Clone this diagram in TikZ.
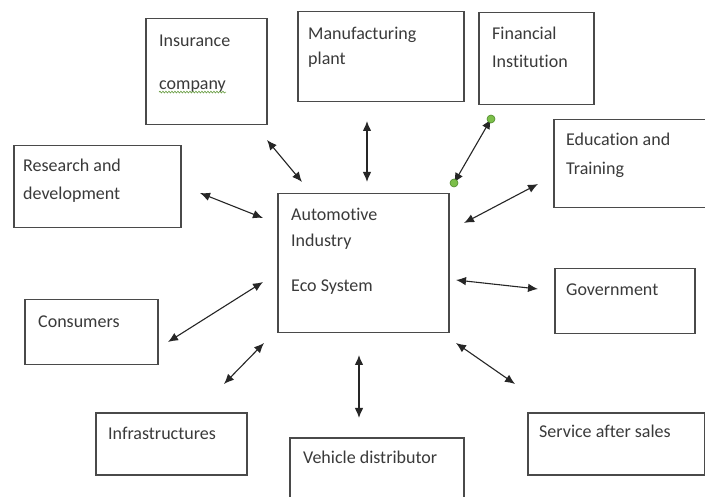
\documentclass[tikz,border=0pt]{standalone}
\usepackage{fontspec}
\setmainfont{Carlito}[Ligatures=NoCommon]
\usetikzlibrary{arrows.meta,decorations.pathmorphing}
\definecolor{boxline}{HTML}{4A4A4A}
\definecolor{txt}{HTML}{3A3A3A}
\definecolor{handle}{HTML}{7CBF4A}
\definecolor{handleline}{HTML}{4E8A2A}
\tikzset{
  box/.style={draw=boxline, line width=1.5pt, fill=white, inner sep=0pt, anchor=north west},
  lbl/.style={anchor=base west, inner sep=0pt, text=txt, font=\fontsize{18}{22}\selectfont},
  link/.style={draw=black!85, line width=1.1pt, {Latex[length=10pt,width=8.5pt]}-{Latex[length=10pt,width=8.5pt]}},
  handledot/.style={circle, fill=handle, draw=handleline, line width=0.6pt, minimum size=8pt, inner sep=0pt},
}
\begin{document}
\begin{tikzpicture}[x=1pt,y=-1pt]
\useasboundingbox (0,0) rectangle (705,497);
\fill[white] (0,0) rectangle (705,497);
\clip (0,0) rectangle (705,497);

% boxes (top-left corner, size)
\node[box, minimum width=121pt, minimum height=106pt] (ins) at (145,18) {};
\node[box, minimum width=166pt, minimum height=90pt]  (man) at (297,11) {};
\node[box, minimum width=115pt, minimum height=92pt]  (fin) at (478,12) {};
\node[box, minimum width=156pt, minimum height=88pt]  (edu) at (553,119) {};
\node[box, minimum width=167pt, minimum height=82pt]  (res) at (13,145) {};
\node[box, minimum width=171pt, minimum height=139pt] (eco) at (277,193) {};
\node[box, minimum width=140pt, minimum height=65pt]  (gov) at (554,268) {};
\node[box, minimum width=133pt, minimum height=65pt]  (con) at (24,299) {};
\node[box, minimum width=151pt, minimum height=62pt]  (inf) at (95,412) {};
\node[box, minimum width=174pt, minimum height=90pt]  (veh) at (289,437) {};
\node[box, minimum width=177pt, minimum height=62pt]  (ser) at (527,412) {};

% labels
\node[lbl] (ins1) at (159,47) {Insurance};
\node[lbl] (ins2) at (159,90) {company};
\draw[handle!80!black, line width=0.6pt, decorate,
      decoration={snake, amplitude=0.9pt, segment length=3pt}]
  (ins2.south west) ++(0,-1) -- ([yshift=1pt]ins2.south east);
\node[lbl] (man1) at (308,40) {Manufacturing};
\node[lbl] (man2) at (308,65) {plant};
\node[lbl] (fin1) at (492,40) {Financial};
\node[lbl] (fin2) at (492,68) {Institution};
\node[lbl] (edu1) at (566,146) {Education and};
\node[lbl] (edu2) at (566,175) {Training};
\node[lbl] (res1) at (23,172) {Research and};
\node[lbl] (res2) at (23,200) {development};
\node[lbl] (eco1) at (291,221) {Automotive};
\node[lbl] (eco2) at (291,247) {Industry};
\node[lbl] (eco3) at (291,292) {Eco System};
\node[lbl] (gov1) at (566,296) {Government};
\node[lbl] (con1) at (38,328) {Consumers};
\node[lbl] (inf1) at (108,439) {Infrastructures};
\node[lbl] (veh1) at (303,464) {Vehicle distributor};
\node[lbl] (ser1) at (539,438) {Service after sales};

% connector end points in the gaps between the boxes
\coordinate (insA) at (267,140); \coordinate (insB) at (302,182);
\coordinate (manA) at (367,121); \coordinate (manB) at (367,182);
\coordinate (finA) at (491,119); \coordinate (finB) at (454,183);
\coordinate (eduA) at (538,184); \coordinate (eduB) at (464,223);
\coordinate (resA) at (200,193); \coordinate (resB) at (263,218);
\coordinate (govA) at (538,289); \coordinate (govB) at (456,280);
\coordinate (conA) at (168,342); \coordinate (conB) at (263,282);
\coordinate (infA) at (224,384); \coordinate (infB) at (264,343);
\coordinate (vehA) at (359,418); \coordinate (vehB) at (359,355);
\coordinate (serA) at (515,384); \coordinate (serB) at (456,343);

\draw[link] (insA) -- (insB);
\draw[link] (manA) -- (manB);
\draw[link] (finA) -- (finB);
\draw[link] (eduA) -- (eduB);
\draw[link] (resA) -- (resB);
\draw[link] (govA) -- (govB);
\draw[link] (conA) -- (conB);
\draw[link] (infA) -- (infB);
\draw[link] (vehA) -- (vehB);
\draw[link] (serA) -- (serB);

% selection handles on the financial connector
\node[handledot] (finH1) at (finA) {};
\node[handledot] (finH2) at (finB) {};
\end{tikzpicture}
\end{document}
